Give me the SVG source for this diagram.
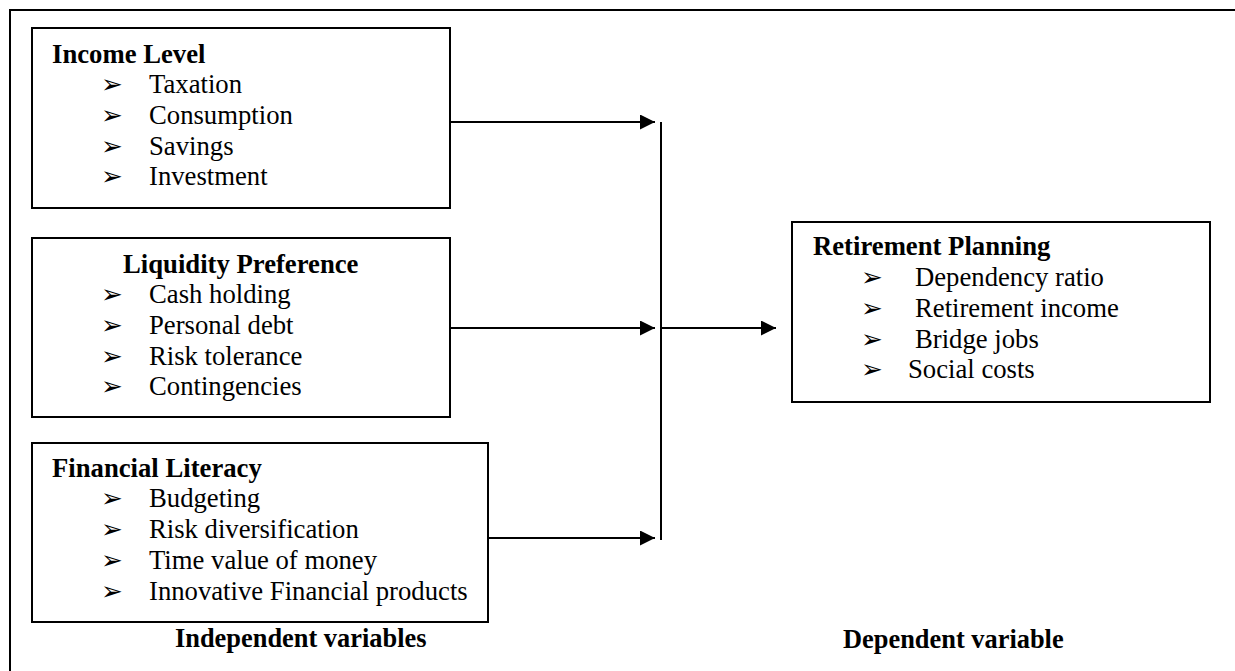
<svg xmlns="http://www.w3.org/2000/svg" width="1235" height="671" viewBox="0 0 1235 671">
<defs>
<marker id="ah" markerWidth="15" markerHeight="15" viewBox="0 0 15 15" refX="15" refY="7.5" orient="auto" markerUnits="userSpaceOnUse">
<path d="M0,0 L15,7.5 L0,15 Z" fill="#000"/>
</marker>
</defs>
<style>
.box{fill:#fff;stroke:#000;stroke-width:2}
.t{font-family:"Liberation Serif","Times New Roman",serif;font-size:26.7px;fill:#000}
.b{font-weight:bold}
.lb{font-size:26.4px}
.bl{font-family:"DejaVu Sans",sans-serif;font-size:26px;fill:#000}
.ln{stroke:#000;stroke-width:2;fill:none}
</style>
<rect width="1235" height="671" fill="#fff"/>
<path class="ln" d="M10,671 V10 H1235"/>

<g id="income">
<rect class="box" x="32" y="28" width="418" height="180"/>
<text class="t b" x="52" y="63">Income Level</text>
<text class="bl" x="101" y="93">➢</text><text class="t" x="149" y="93">Taxation</text>
<text class="bl" x="101" y="124">➢</text><text class="t" x="149" y="124">Consumption</text>
<text class="bl" x="101" y="155">➢</text><text class="t" x="149" y="155">Savings</text>
<text class="bl" x="101" y="185">➢</text><text class="t" x="149" y="185">Investment</text>
</g>

<g id="liquidity">
<rect class="box" x="32" y="238" width="418" height="179"/>
<text class="t b" x="123" y="273">Liquidity Preference</text>
<text class="bl" x="101" y="303">➢</text><text class="t" x="149" y="303">Cash holding</text>
<text class="bl" x="101" y="334">➢</text><text class="t" x="149" y="334">Personal debt</text>
<text class="bl" x="101" y="365">➢</text><text class="t" x="149" y="365">Risk tolerance</text>
<text class="bl" x="101" y="395">➢</text><text class="t" x="149" y="395">Contingencies</text>
</g>

<g id="literacy">
<rect class="box" x="32" y="443" width="456" height="179"/>
<text class="t b" x="52" y="477">Financial Literacy</text>
<text class="bl" x="101" y="507">➢</text><text class="t" x="149" y="507">Budgeting</text>
<text class="bl" x="101" y="538">➢</text><text class="t" x="149" y="538">Risk diversification</text>
<text class="bl" x="101" y="569">➢</text><text class="t" x="149" y="569">Time value of money</text>
<text class="bl" x="101" y="600">➢</text><text class="t" x="149" y="600">Innovative Financial products</text>
</g>

<g id="retirement">
<rect class="box" x="792" y="222" width="418" height="180"/>
<text class="t b" x="813" y="255">Retirement Planning</text>
<text class="bl" x="861" y="286">➢</text><text class="t" x="915" y="286">Dependency ratio</text>
<text class="bl" x="861" y="317">➢</text><text class="t" x="915" y="317">Retirement income</text>
<text class="bl" x="861" y="348">➢</text><text class="t" x="915" y="348">Bridge jobs</text>
<text class="bl" x="861" y="378">➢</text><text class="t" x="908" y="378">Social costs</text>
</g>

<g id="labels">
<text class="t b lb" x="175" y="647">Independent variables</text>
<text class="t b lb" x="843" y="648">Dependent variable</text>
</g>

<g id="connectors">
<line class="ln" x1="450" y1="122" x2="655" y2="122" marker-end="url(#ah)"/>
<line class="ln" x1="450" y1="328" x2="655" y2="328" marker-end="url(#ah)"/>
<line class="ln" x1="488" y1="538" x2="655" y2="538" marker-end="url(#ah)"/>
<line class="ln" x1="661" y1="122" x2="661" y2="540"/>
<line class="ln" x1="661" y1="328" x2="776" y2="328" marker-end="url(#ah)"/>
</g>
</svg>
